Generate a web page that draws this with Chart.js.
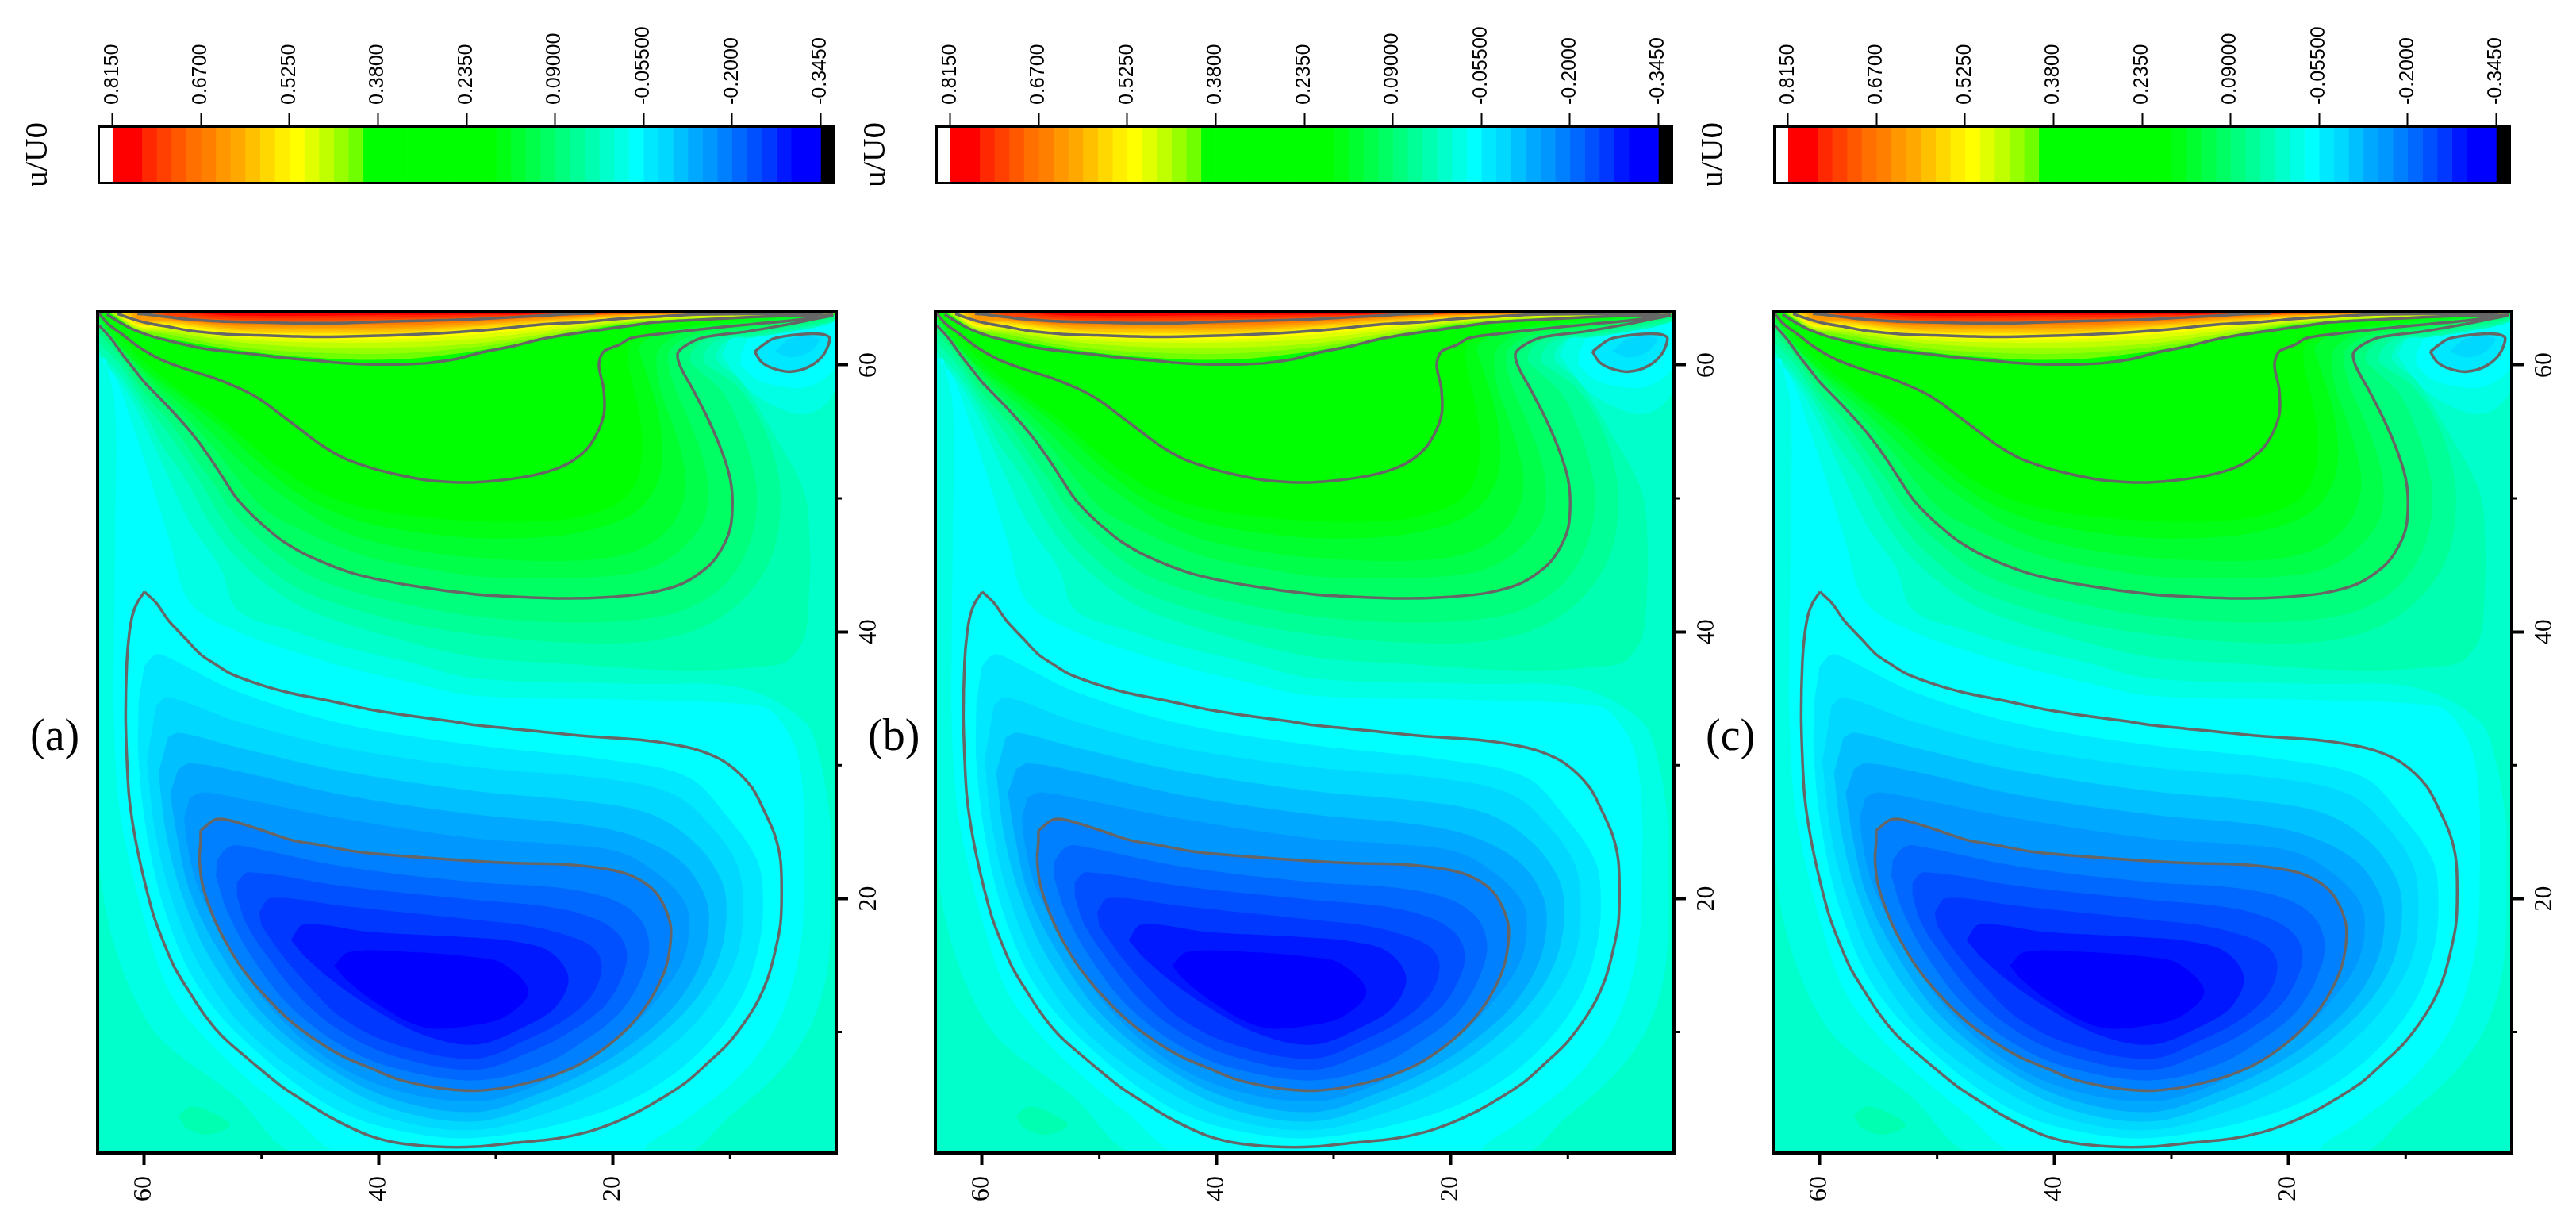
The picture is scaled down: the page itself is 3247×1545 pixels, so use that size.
<!DOCTYPE html>
<html>
<head>
<meta charset="utf-8">
<style>
  html, body { margin: 0; padding: 0; background: #fff; }
  body { position: relative; width: 3247px; height: 1545px; overflow: hidden; }
  canvas { position: absolute; }
  .tag { position: absolute; font: 56px "Liberation Serif"; color: #000; line-height: 1; }
</style>
<script src="https://cdn.jsdelivr.net/npm/chart.js@4"></script>
</head>
<body>
<script>
// panels and axes
const panelTags = ['(a)', '(b)', '(c)'];
const xTicks = [60, 50, 40, 30, 20, 10];
const yTicks = [10, 20, 30, 40, 50, 60];
const labelledTicks = [20, 40, 60];
const barTicks = [0.815, 0.67, 0.525, 0.38, 0.235, 0.09, -0.055, -0.2, -0.345];
const barTickLabels = ['0.8150', '0.6700', '0.5250', '0.3800', '0.2350', '0.09000', '-0.05500', '-0.2000', '-0.3450'];

// colour bar
const barEdges = [0.8392, 0.815, 0.7908, 0.7667, 0.7425, 0.7183, 0.6942, 0.67, 0.6458, 0.6217, 0.5975, 0.5733, 0.5492, 0.525, 0.5008, 0.4767, 0.4525, 0.4283, 0.4042, 0.38, 0.3558, 0.3317, 0.3075, 0.2833, 0.2592, 0.235, 0.2108, 0.1867, 0.1625, 0.1383, 0.1142, 0.09, 0.0658, 0.0417, 0.0175, -0.0067, -0.0308, -0.055, -0.0792, -0.1033, -0.1275, -0.1517, -0.1758, -0.2, -0.2242, -0.2483, -0.2725, -0.2967, -0.3208, -0.345, -0.3692];
const barColors = ['#ffffff', '#ff0000', '#ff0000', '#ff2800', '#ff4000', '#ff5800', '#ff7000', '#ff8000', '#ff9800', '#ffa800', '#ffc000', '#ffd800', '#ffee00', '#ffff00', '#e0ff00', '#c0ff00', '#98ff00', '#70ff00', '#00ff00', '#00ff00', '#00ff00', '#00ff00', '#00ff00', '#00ff00', '#00ff00', '#00ff00', '#00ff00', '#00ff14', '#00ff2e', '#00ff48', '#00ff62', '#00ff7c', '#00ff96', '#00ffb0', '#00ffca', '#00ffe4', '#00ffff', '#00e8ff', '#00d8ff', '#00c0ff', '#00a8ff', '#0098ff', '#0080ff', '#0068ff', '#0050ff', '#0038ff', '#0018ff', '#0000ff', '#0000ff', '#000000'];

// contour lines, x,y pairs
const lineA = [60.6,63.84, 59.5,63.75, 57.9,63.59, 56.3,63.43, 54.7,63.33, 52.9,63.25, 50.2,63.19, 47.3,63.13, 45.2,63.13, 42.7,63.15, 39.4,63.25, 35.7,63.33, 31.7,63.43, 28.7,63.57, 25.4,63.73, 23.8,63.82, 21.5,63.88];
const lineB = [62.3,63.84, 61.3,63.53, 59.7,63.13, 58.1,62.89, 56.3,62.6, 54.3,62.4, 52.9,62.3, 50.2,62.22, 47.3,62.14, 45.2,62.1, 40.7,62.18, 37.8,62.26, 34.8,62.38, 31.7,62.56, 29.4,62.74, 25.8,63.05, 22.6,63.2, 19.7,63.45, 15.9,63.63, 12.7,63.79, 2.1,63.86];
const lineC = [63.2,63.79, 61.9,63.09, 60.8,62.6, 59.2,62.1, 57.4,61.7, 55.2,61.27, 52.9,61.0, 50.6,60.8, 48.4,60.56, 45.2,60.32, 43.4,60.16, 40.7,60.04, 37.6,60.06, 36.0,60.12, 33.5,60.42, 31.2,60.95, 28.5,61.41, 26.3,61.9, 23.8,62.3, 21.3,62.6, 18.1,63.0, 16.5,63.19, 12.7,63.39, 8.2,63.59, 3.7,63.73, 1.2,63.75];
const lineD = [63.86,63.84, 63.07,63.05, 61.9,62.3, 60.4,61.3, 58.6,60.4, 56.5,59.7, 54.0,59.0, 51.3,58.0, 49.75,57.2, 48.4,56.3, 46.8,55.25, 45.0,54.06, 43.0,53.03, 40.7,52.3, 38.5,51.8, 36.2,51.4, 34.4,51.25, 31.7,51.2, 27.6,51.6, 24.9,52.2, 23.3,52.9, 21.9,54.06, 20.8,56.2, 20.8,58.2, 21.2,60.0, 20.8,61.0, 19.48,61.5, 18.5,62.0, 16.3,62.3, 12.7,62.66, 8.2,63.05, 3.7,63.45, 2.3,63.8];
const lineE = [63.86,62.97, 62.85,61.98, 61.8,60.7, 60.9,59.7, 60.0,58.7, 59.0,57.8, 57.9,56.8, 56.6,55.55, 55.4,54.26, 54.3,52.9, 53.4,51.7, 52.2,50.1, 51.1,49.0, 49.75,47.9, 48.2,46.8, 45.9,45.65, 42.1,44.36, 37.3,43.47, 31.7,42.8, 27.6,42.6, 23.8,42.5, 20.4,42.6, 17.0,42.9, 14.1,43.6, 12.0,44.8, 10.9,45.95, 10.0,47.7, 9.8,49.7, 10.0,51.5, 10.7,53.5, 11.8,55.8, 13.2,58.2, 14.3,60.0, 14.4,61.0, 12.5,62.0, 8.6,62.5, 5.0,63.05, 1.2,63.73];
const lineEddy = [7.9,61.0, 6.4,61.94, 3.9,62.3, 2.1,62.3, 1.5,62.0, 2.0,60.8, 3.2,59.9, 4.8,59.5, 6.2,59.7, 7.3,60.2, 7.9,61.0];
const lineOuter = [60.0,43.0, 59.0,42.17, 57.9,40.8, 56.5,39.5, 55.2,38.3, 54.0,37.6, 52.5,36.8, 50.0,36.0, 47.5,35.4, 45.2,35.0, 43.0,34.6, 40.9,34.2, 37.3,33.7, 33.9,33.3, 31.7,33.0, 27.2,32.6, 22.6,32.2, 17.7,31.9, 14.5,31.5, 12.3,31.0, 10.2,30.1, 8.2,28.4, 7.1,26.6, 6.2,24.8, 5.7,22.9, 5.6,20.5, 5.7,18.1, 6.2,15.9, 6.8,14.0, 7.9,11.9, 10.0,9.3, 12.0,7.6, 13.8,6.2, 15.9,5.0, 17.9,4.0, 19.9,3.2, 22.2,2.5, 24.9,2.0, 28.3,1.7, 31.7,1.4, 35.1,1.4, 38.5,1.7, 40.7,2.2, 42.3,2.8, 44.1,3.6, 46.6,4.95, 48.4,6.0, 50.9,7.8, 52.9,9.3, 53.9,10.2, 55.2,11.7, 56.3,13.2, 57.4,14.8, 58.3,16.6, 59.2,18.7, 60.1,21.7, 60.8,24.6, 61.3,27.6, 61.5,30.6, 61.6,33.85, 61.5,37.7, 61.3,39.8, 61.0,41.3, 60.6,42.2, 60.0,43.0];
const lineInner = [55.2,25.1, 54.0,25.9, 52.9,25.9, 50.2,25.2, 47.5,24.4, 45.2,24.05, 41.8,23.5, 37.3,23.15, 31.7,22.8, 28.3,22.65, 24.9,22.6, 21.5,22.35, 19.0,21.9, 17.0,21.0, 15.9,19.9, 15.1,18.1, 15.1,16.6, 15.5,14.8, 16.3,13.2, 17.2,11.9, 18.6,10.4, 20.4,9.0, 22.6,7.7, 24.9,6.8, 27.2,6.2, 29.4,5.8, 31.7,5.6, 34.0,5.7, 36.2,6.0, 38.5,6.5, 40.7,7.3, 43.0,8.15, 45.2,9.3, 47.5,10.8, 49.8,12.8, 51.6,14.7, 52.9,16.5, 54.0,18.4, 55.0,20.9, 55.3,22.9, 55.2,24.3, 55.2,25.1];

// filled levels, painted from the outside in
const plotBack = [0,0, 65,0, 65,65, 0,65];
const levelC9 = [63.86,60.7, 61.9,58.6, 60,55.5, 57.9,51.5, 56,48, 53.5,44.8, 52,41.6, 47.5,40.1, 43,38.9, 37.3,37.7, 31.7,36.5, 18.1,36.1, 9.1,35.8, 3.7,33.3, 2.3,30.3, 1.4,25.5, 1.4,24.3, 1.6,15.4, 3,10.7, 5.7,7.1, 10.2,3.55, 14,0.9, 46.8,0.9, 52,5.0, 59.9,11.0, 63.9,23.1, 64.2,60.7];
const levelCyan = [63.75,60.5, 62.4,58.9, 61,55.5, 59.5,51.5, 57.8,46.7, 56.1,42.2, 52,40, 47.5,38.6, 43,37.4, 37.3,36.2, 31.7,35.2, 18.1,34.9, 9.1,34.6, 6.4,34, 4.1,30.3, 3.7,20.5, 4.2,15.4, 5.9,10.7, 9.1,6.8, 13.6,3.55, 17,1.6, 17.7,0.9, 43,0.9, 47.5,3.85, 51.6,6.8, 55.4,10.1, 57.9,13.1, 59.7,17.5, 61.3,22.9, 62.2,27.3, 62.6,33.3, 62.6,39.2, 62.5,47.5, 62.5,56.8, 63.3,60.4];
const levelN1 = [60.03,37.42, 59.0,38.3, 57.8,38.0, 52.0,35.5, 43.0,33.1, 31.7,31.5, 20.4,30.4, 13.6,29.1, 10.2,26.1, 7.7,22.9, 7.2,20.3, 7.5,16.6, 9.1,12.5, 12.5,8.6, 17,5.6, 22.6,3.55, 31.7,2.06, 38.5,2.65, 44.1,4.4, 50.9,8.9, 55.4,13.4, 58.1,18.7, 59.7,24.4, 60.5,30.3, 60.5,34.7];
const levelN2 = [59,34.45, 58,35.1, 52,33.26, 43,31.3, 31.7,29.84, 20.4,28.95, 14.7,27.76, 11.4,25.2, 9.4,22.56, 8.9,19.9, 9.3,16, 11.3,12.5, 14.7,9.2, 19.3,6.37, 24.9,4.14, 31.7,2.66, 38.5,3.4, 44.1,5.5, 50.9,9.8, 55,14.54, 57.4,19.3, 59,24.6, 59.8,30.3];
const levelN3 = [58,32.07, 57,32.43, 52,31.33, 43,29.54, 31.7,28.06, 22.6,27.3, 17,26.4, 13.2,24.35, 10.9,21.67, 10.3,19.3, 10.9,15.7, 12.9,12.5, 16.3,9.5, 20.4,7, 26,4.74, 31.7,3.3, 38.5,4.14, 44.1,6.5, 50.2,10.7, 54.3,15.4, 56.75,20.2, 58.1,24.64, 58.8,29.4];
const levelN4 = [57.1,29.7, 56.1,30.14, 52,29.54, 43,27.76, 31.7,26.3, 22.6,25.53, 18.1,24.64, 14.3,22.86, 12.3,20.5, 11.8,18.4, 12.4,15.43, 14.3,12.46, 17.2,9.94, 21.1,7.56, 26.5,5.33, 31.7,4.0, 38.5,4.9, 44.1,7.26, 49.75,11.27, 53.6,16.03, 56.1,20.5, 57.2,24.64, 57.8,27.9];
const levelN5 = [56.1,27.6, 55,27.97, 51.6,27.46, 43,25.98, 31.7,24.5, 24.9,24.1, 19.3,23.45, 15.9,21.67, 13.8,19.6, 13.5,17.8, 14,15.43, 15.9,12.8, 18.8,10.08, 22.2,8.0, 27.2,5.78, 31.7,4.8, 38.5,5.63, 44.1,7.85, 49.3,11.87, 52.9,16.62, 55.4,20.78, 56.4,24.34, 56.6,26.1];
const levelN7 = [53.8,22.86, 53,23.75, 52,24, 43,22.41, 31.7,21.23, 24.9,20.84, 20.4,20.04, 17.9,18.7, 16.9,16.62, 17.5,14.24, 19.3,11.57, 22.2,9.49, 26,7.56, 31.7,6.37, 38.5,7.26, 43,8.9, 47.5,11.87, 50.9,15.73, 52.9,19, 53.9,21.67];
const levelN8 = [52.1,21.23, 51.1,21.97, 43,20.93, 31.7,19.89, 26,19.44, 22.2,18.7, 19.7,17.5, 18.8,15.88, 19.3,13.95, 20.8,11.87, 23.8,9.94, 27.2,8.45, 31.7,7.17, 38.5,8.15, 43,9.94, 46.4,12.3, 49.3,15.43, 51.3,18.1, 52.1,20.2];
const levelN9 = [50.2,19, 49.2,20.04, 43,19.44, 31.7,18.4, 27.2,17.96, 23.8,17.21, 21.7,16.32, 20.95,15, 21.7,12.9, 23.8,11.12, 27.2,9.49, 31.7,8, 38.5,9.05, 43,10.97, 45.7,13.2, 48.2,15.73, 50,17.96];
const levelN10 = [47.5,16.9, 46.4,18.05, 40.7,17.5, 31.7,17.07, 28.3,16.77, 25.4,16.03, 23.8,14.1, 24.9,11.87, 27.6,10.38, 31.7,9.05, 36.2,9.79, 40.7,11.87, 44.1,13.95, 46.4,15.73];
const levelN11 = [43.8,15, 42.5,16, 37.3,16, 31.7,15.6, 29.4,15.13, 27.2,13.06, 29,11.27, 31.7,10.53, 36.2,10.38, 40.7,12.46, 43,14.1];
const levelSpot = [57.1,3.7, 56.1,4.4, 54.3,4.0, 52.7,3.0, 54.7,2.3, 56.5,2.8];
const levelEddyC9 = [10.7,60.8, 9.1,62.8, 1.0,63.57, 1.0,58.4, 1.9,57.0, 3.7,56.3, 5.9,56.8, 8.2,58.0, 10.0,59.8];
const levelEddyCyan = [9.1,60.8, 7.7,62.8, 1.0,63.57, 1.0,60.0, 1.9,59.0, 3.7,58.3, 5.7,58.4, 7.7,58.9, 9.1,60.0];
const levelEddyCore = [6.2,61.0, 4.8,62.0, 2.4,62.0, 2.9,61.2, 3.9,60.7, 5.0,60.56];
const levelP7 = [63.9,61.0, 62,59.2, 60,56.5, 58.5,54, 56.5,51.5, 54.3,48, 51.5,45, 47.5,42.3, 44.1,41, 38.5,39.5, 31.7,38.1, 24,37.6, 13.6,37.1, 6.2,37.5, 5,37.9, 3.7,39.5, 3.3,42.2, 3.2,46.5, 3.7,50.5, 6.2,54.7, 9.1,58.8, 11.1,60.3, 10.9,61.3, 9.8,62, 8.2,62.05, 4.8,62.5, 1.0,63.3, 1,64.2, 64.2,64.2];
const levelP6 = [63.9,61.7, 62,59.9, 60,57.2, 57.9,54.8, 55.4,51.5, 53,48, 50.5,45.6, 47,43.3, 42.1,41.7, 37.3,40.6, 31.7,39.8, 24,39.2, 17,39.3, 12,40.5, 8.5,42.8, 6.3,46, 5.7,50, 6.2,53, 7.5,56, 9.5,58.5, 12,60.0, 12.3,60.4, 12,61.2, 10.8,62.0, 8.2,62.2, 4.8,62.7, 1.0,63.45, 1,64.2, 64.2,64.2];
const levelP5 = [63.9,62.4, 62,60.5, 60,57.9, 57.9,55.8, 55.4,52.7, 54.4,51.5, 52.5,49.0, 50,46.8, 46.5,44.5, 42.1,43.0, 37.3,42.0, 31.7,41.15, 24,40.7, 17,41.0, 13,42.0, 10,44, 8.2,47, 7.7,50, 8.1,52.5, 9.0,55, 10.5,57.8, 12.5,59.5, 13.4,60.3, 13.2,61.1, 11.8,62.0, 8.2,62.4, 4.8,62.9, 1.0,63.6, 1,64.2, 64.2,64.2];
const levelP3 = [63.9,63.3, 62.2,61.35, 61,60.1, 59,58.2, 56.5,56.1, 54,53.7, 51.6,51.0, 49.5,49.0, 47,47.8, 44,46.6, 40,45.4, 35,44.6, 31.7,44.16, 25,44, 19,44.3, 16,45.1, 13.8,46.5, 12.2,48.5, 11.9,51, 12.5,53.5, 13.5,55.8, 14.8,58.5, 15.3,60.3, 15,61.3, 13.2,62.2, 8.6,62.8, 1.0,63.77, 1,64.2, 64.2,64.2];
const levelP2 = [63.9,63.5, 62.2,61.5, 61,60.35, 59,58.6, 56.5,56.75, 54,54.7, 51.6,52.6, 49.75,51.2, 47.5,49.8, 44.5,48.1, 41,46.9, 36,46, 31.7,45.55, 25,45.3, 20,45.6, 17,46.5, 15,48, 14,49.8, 13.8,51.5, 14.2,53.5, 15,55.8, 16,58.3, 16.3,60.3, 16,61.3, 14,62.4, 8.6,63.1, 1.0,63.8, 1,64.2, 64.2,64.2];
const levelP1 = [63.9,63.7, 62.2,61.6, 59.9,59.6, 56.5,57.4, 53.1,55.05, 49.75,52.3, 46.4,50.1, 43,48.7, 38.5,47.7, 31.7,47.03, 26,47.1, 22.6,47.5, 19,48.5, 17.2,49.7, 16,51.7, 15.8,54.2, 16.3,57, 17.45,60.2, 17.7,61.4, 15.9,62.4, 9.1,63.2, 2.3,63.8, 1,64.2, 64.2,64.2];
const levelGreen = [63.9,63.8, 62,62, 60,60.2, 56.5,57.8, 53,55.6, 49.5,53, 46,50.9, 42.5,49.6, 38,48.8, 31.7,48.3, 26,48.3, 22.5,48.7, 19.5,49.7, 18,51.3, 17.5,54, 17.9,57, 18.7,60.2, 18.5,61.6, 16,62.5, 9,63.4, 2.3,63.85, 1,64.2, 64.2,64.2];
const levelE1 = [63,63.9, 60.5,62.55, 58,62.0, 52,61.11, 45,60.52, 38.5,60.42, 32,61.01, 26,61.94, 20,62.93, 12,63.42, 5,63.68, 1.2,63.8, 1,64.2, 63,64.2];
const levelE2 = [62.9,63.9, 60.5,62.62, 58,62.3, 52,61.35, 45,60.91, 38.5,60.87, 32,61.31, 26,62.1, 20,63.03, 12,63.5, 5,63.7, 1.2,63.82, 1,64.2, 63,64.2];
const levelE3 = [62.7,63.9, 60.5,62.7, 58,62.5, 52,61.7, 45,61.31, 38.5,61.31, 32,61.6, 26,62.3, 20,63.13, 12,63.55, 4,63.75, 1.2,63.84, 1,64.2, 63,64.2];
const levelE4 = [62.5,63.9, 60.5,62.8, 58,62.7, 52,61.94, 45,61.67, 38.5,61.7, 32,61.94, 26,62.54, 20,63.25, 12,63.6, 4,63.78, 1.5,63.86, 1.5,64.2, 63,64.2];
const levelE5 = [62.3,63.9, 60.5,62.9, 58,62.85, 52,62.14, 45,61.94, 38.5,61.94, 32,62.26, 26,62.78, 20,63.35, 12,63.7, 3,63.84, 2,64.2, 63,64.2];
const levelE6 = [62.1,63.9, 60.5,63.0, 58,62.97, 52,62.34, 45,62.14, 38.5,62.14, 32,62.5, 26,62.97, 20,63.45, 12,63.73, 4,63.86, 4,64.2, 63,64.2];
const levelE7 = [61.9,63.9, 60.5,63.1, 58,63.09, 52,62.46, 45,62.34, 38.5,62.34, 32,62.7, 26,63.09, 20,63.53, 12,63.76, 5,63.88, 5,64.2, 63,64.2];
const levelE8 = [61.6,63.9, 60.5,63.2, 58,63.19, 52,62.6, 45,62.5, 38.5,62.5, 32,62.85, 26,63.23, 20,63.61, 12,63.8, 6,63.88, 6,64.2, 63,64.2];
const levelE9 = [61.2,63.9, 60.5,63.3, 58,63.29, 52,62.74, 45,62.66, 38.5,62.66, 32,62.97, 26,63.35, 20,63.67, 12,63.84, 8,63.88, 8,64.2, 63,64.2];
const levelE10 = [60.8,63.9, 60.5,63.4, 58,63.37, 52,62.89, 45,62.81, 38.5,62.81, 32,63.09, 26,63.45, 20,63.73, 13,63.85, 10,63.88, 10,64.2, 63,64.2];
const levelE11 = [60.3,63.9, 58,63.45, 52,63.01, 45,62.97, 38.5,62.97, 32,63.21, 26,63.53, 20,63.77, 14,63.88, 14,64.2, 63,64.2];
const levelE12 = [59.8,63.9, 58,63.55, 52,63.13, 45,63.09, 38.5,63.13, 32,63.33, 26,63.61, 20,63.8, 16,63.88, 16,64.2, 63,64.2];
const levelE13 = [59.2,63.9, 58,63.63, 52,63.25, 45,63.21, 38.5,63.29, 32,63.43, 26,63.69, 20,63.84, 18,63.88, 18,64.2, 63,64.2];
const levelE14 = [58.6,63.9, 58,63.69, 52,63.39, 45,63.37, 38.5,63.45, 32,63.55, 26,63.75, 20,63.86, 20,64.2, 63,64.2];
const levelE15 = [57.5,63.9, 52,63.53, 45,63.53, 38.5,63.61, 32,63.67, 26,63.8, 22,63.88, 22,64.2, 63,64.2];
const levelE16 = [56,63.9, 52,63.69, 45,63.69, 38.5,63.75, 32,63.79, 26,63.86, 25,64.2, 63,64.2];

const fieldLevels = [plotBack, levelC9, levelCyan, levelN1, levelN2, levelN3, levelN4, levelN5, lineInner, levelN7, levelN8, levelN9, levelN10, levelN11, levelSpot, levelEddyC9, levelEddyCyan, lineEddy, levelEddyCore, levelP7, levelP6, levelP5, lineE.concat([1, 64.2, 64.2, 64.2]), levelP3, levelP2, levelP1, levelGreen, levelE1, levelE2, levelE3, levelE4, levelE5, levelE6, levelE7, levelE8, levelE9, levelE10, levelE11, levelE12, levelE13, levelE14, levelE15, levelE16];
const fieldColors = ['#00ffca', '#00ffe4', '#00ffff', '#00e8ff', '#00d8ff', '#00c0ff', '#00a8ff', '#0098ff', '#0080ff', '#0068ff', '#0050ff', '#0038ff', '#0018ff', '#0000ff', '#00ffb0', '#00ffe4', '#00ffff', '#00e8ff', '#00d8ff', '#00ffb0', '#00ff96', '#00ff7c', '#00ff62', '#00ff48', '#00ff2e', '#00ff14', '#00ff00', '#70ff00', '#98ff00', '#c0ff00', '#e0ff00', '#ffff00', '#ffee00', '#ffd800', '#ffc000', '#ffa800', '#ff9800', '#ff8000', '#ff7000', '#ff5800', '#ff4000', '#ff2800', '#ff0000'];
const contourLines = [lineA, lineB, lineC, lineD, lineE, lineEddy, lineOuter, lineInner];

function toPoints(flat) {
  const pts = [];
  for (let i = 0; i < flat.length; i += 2) pts.push({x: flat[i], y: flat[i + 1]});
  return pts;
}

function addCanvas(left, top, width, height) {
  const c = document.createElement('canvas');
  c.width = width;
  c.height = height;
  c.style.left = left + 'px';
  c.style.top = top + 'px';
  c.style.width = width + 'px';
  c.style.height = height + 'px';
  document.body.appendChild(c);
  return c;
}

// frame, minor ticks and the rotated labels of the right axis
const fieldExtras = {
  id: 'fieldExtras',
  afterDraw(chart) {
    const {ctx, chartArea: a, scales} = chart;
    ctx.save();
    ctx.strokeStyle = '#000';
    ctx.fillStyle = '#000';
    ctx.lineWidth = 4;
    ctx.strokeRect(a.left - 2, a.top - 2, a.right - a.left + 4, a.bottom - a.top + 4);
    ctx.lineWidth = 3;
    scales.x.ticks.forEach(t => {
      if (labelledTicks.includes(t.value)) return;
      const px = scales.x.getPixelForValue(t.value);
      ctx.beginPath();
      ctx.moveTo(px, a.bottom);
      ctx.lineTo(px, a.bottom + 9);
      ctx.stroke();
    });
    scales.y.ticks.forEach(t => {
      const py = scales.y.getPixelForValue(t.value);
      if (labelledTicks.includes(t.value)) {
        ctx.save();
        ctx.translate(a.right + 44, py);
        ctx.rotate(-Math.PI / 2);
        ctx.font = '32px "Liberation Serif"';
        ctx.textAlign = 'center';
        ctx.textBaseline = 'middle';
        ctx.fillText(String(t.value), 0, 0);
        ctx.restore();
      } else {
        ctx.beginPath();
        ctx.moveTo(a.right, py);
        ctx.lineTo(a.right + 9, py);
        ctx.stroke();
      }
    });
    ctx.restore();
  }
};

const barFrame = {
  id: 'barFrame',
  afterDraw(chart) {
    const {ctx, chartArea: a} = chart;
    ctx.save();
    ctx.strokeStyle = '#000';
    ctx.lineWidth = 3;
    ctx.strokeRect(a.left + 1.5, a.top + 1.5, a.right - a.left - 3, a.bottom - a.top - 3);
    ctx.restore();
  }
};

function fieldDatasets() {
  const sets = [];
  fieldLevels.forEach((flat, i) => {
    sets.push({
      data: toPoints(flat),
      showLine: true,
      fill: 'shape',
      backgroundColor: fieldColors[i],
      borderWidth: 0,
      pointRadius: 0,
      tension: i === 0 ? 0 : 0.35
    });
  });
  contourLines.forEach(flat => {
    sets.push({
      data: toPoints(flat),
      showLine: true,
      fill: false,
      borderColor: '#666666',
      borderWidth: 3.5,
      pointRadius: 0,
      tension: 0.3
    });
  });
  // the first dataset is drawn last
  return sets.reverse();
}

panelTags.forEach((tag, p) => {
  const off = p * 1056;

  new Chart(addCanvas(off + 119, 389, 1003, 1152), {
    type: 'scatter',
    data: {datasets: fieldDatasets()},
    plugins: [fieldExtras],
    options: {
      responsive: false,
      animation: false,
      events: [],
      layout: {padding: {left: 6, top: 6}},
      plugins: {legend: {display: false}, tooltip: {enabled: false}},
      scales: {
        x: {
          type: 'linear',
          reverse: true,
          min: 1.08,
          max: 63.86,
          afterBuildTicks: s => { s.ticks = xTicks.map(v => ({value: v})); },
          afterFit: s => { s.height = 90; },
          border: {display: false},
          grid: {
            drawOnChartArea: false,
            tickLength: 17,
            tickWidth: 4,
            tickColor: c => labelledTicks.includes(c.tick.value) ? '#000' : 'rgba(0,0,0,0)'
          },
          ticks: {
            autoSkip: false,
            minRotation: 90,
            maxRotation: 90,
            padding: 14,
            color: '#000',
            font: {family: 'Liberation Serif', size: 32},
            callback: v => labelledTicks.includes(v) ? String(v) : ''
          }
        },
        y: {
          type: 'linear',
          position: 'right',
          min: 1.05,
          max: 63.86,
          afterBuildTicks: s => { s.ticks = yTicks.map(v => ({value: v})); },
          afterFit: s => { s.width = 70; },
          border: {display: false},
          grid: {
            drawOnChartArea: false,
            tickLength: 17,
            tickWidth: 4,
            tickColor: c => labelledTicks.includes(c.tick.value) ? '#000' : 'rgba(0,0,0,0)'
          },
          ticks: {display: false}
        }
      }
    }
  });

  new Chart(addCanvas(off, 0, 1060, 234), {
    type: 'bar',
    data: {
      labels: [''],
      datasets: barColors.map((col, i) => ({
        data: [[barEdges[i], barEdges[i + 1]]],
        backgroundColor: col,
        borderWidth: 0,
        barPercentage: 1,
        categoryPercentage: 1,
        grouped: false
      }))
    },
    plugins: [barFrame],
    options: {
      indexAxis: 'y',
      responsive: false,
      animation: false,
      events: [],
      layout: {padding: {right: 7, bottom: 2}},
      plugins: {legend: {display: false}, tooltip: {enabled: false}},
      scales: {
        x: {
          type: 'linear',
          position: 'top',
          reverse: true,
          min: -0.3692,
          max: 0.8392,
          afterBuildTicks: s => { s.ticks = barTicks.map(v => ({value: v})); },
          afterFit: s => { s.height = 158; },
          border: {display: false},
          grid: {drawOnChartArea: false, tickLength: 15, tickWidth: 2, tickColor: '#000'},
          ticks: {
            autoSkip: false,
            minRotation: 90,
            maxRotation: 90,
            padding: 11,
            labelOffset: 30,
            color: '#000',
            font: {family: 'Liberation Sans', size: 25},
            callback: (v, i) => barTickLabels[i]
          }
        },
        y: {
          type: 'category',
          afterFit: s => { s.width = 123; },
          border: {display: false},
          grid: {display: false},
          ticks: {display: false},
          title: {
            display: true,
            text: 'u/U0',
            color: '#000',
            font: {family: 'Liberation Serif', size: 41},
            padding: {top: 24, bottom: 0}
          }
        }
      }
    }
  });

  const t = document.createElement('div');
  t.className = 'tag';
  t.textContent = tag;
  t.style.left = (off + 38) + 'px';
  t.style.top = '898px';
  document.body.appendChild(t);
});
</script>
</body>
</html>
